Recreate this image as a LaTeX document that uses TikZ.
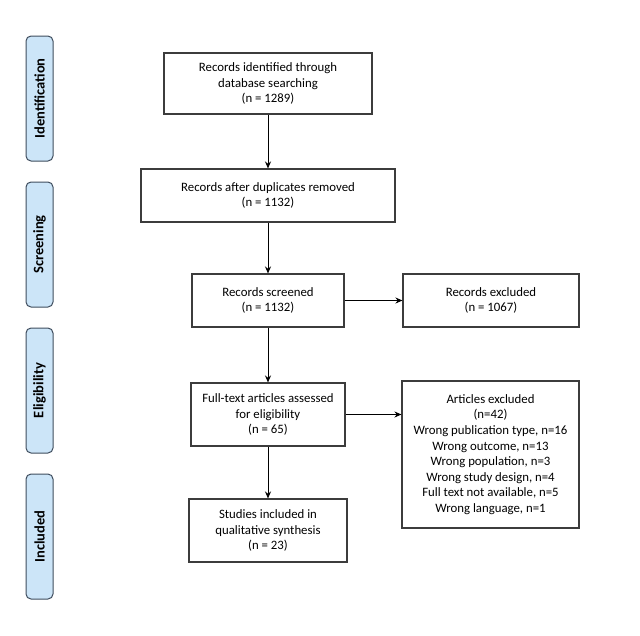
\documentclass[tikz,border=0pt]{standalone}
\usepackage{fontspec}
\setmainfont{Carlito}
\usetikzlibrary{arrows.meta}
\definecolor{barfill}{HTML}{CCE5F8}
\definecolor{bardraw}{HTML}{3F4D5E}
\definecolor{boxdraw}{HTML}{3C3C3C}
\begin{document}
\begin{tikzpicture}[x=1pt,y=-1pt,
  flowbox/.style={draw=boxdraw,line width=1.1pt,fill=white,align=center,
    inner sep=0pt,font=\fontsize{12.8}{15.6}\selectfont},
  phasebar/.style={draw=bardraw,line width=1pt,fill=barfill,rounded corners=5pt,
    minimum width=27pt,minimum height=125pt,inner sep=0pt},
  phaselabel/.style={rotate=90,font=\fontsize{14.5}{17}\selectfont\bfseries},
  flowarrow/.style={draw=black,line width=1pt,-{Stealth[length=7pt,width=6pt]}}]
\useasboundingbox (0,0) rectangle (640,635);
% phase bars
\node[phasebar] (p1) at (39.5,98.5) {};
\node[phaselabel] at (p1) {Identification};
\node[phasebar] (p2) at (39.5,244.5) {};
\node[phaselabel] at (p2) {Screening};
\node[phasebar] (p3) at (39.5,390.5) {};
\node[phaselabel] at (p3) {Eligibility};
\node[phasebar] (p4) at (39.5,536.5) {};
\node[phaselabel] at (p4) {Included};
% boxes
\node[flowbox,minimum width=208pt,minimum height=61pt] (b1) at (268,83.5)
  {Records identified through\\database searching\\(n = 1289)};
\node[flowbox,minimum width=254pt,minimum height=53pt] (b2) at (268,195.5)
  {Records after duplicates removed\\(n = 1132)};
\node[flowbox,minimum width=152pt,minimum height=53pt] (b3) at (268,300.5)
  {Records screened\\(n = 1132)};
\node[flowbox,minimum width=176pt,minimum height=53pt] (e1) at (491,300.5)
  {Records excluded\\(n = 1067)};
\node[flowbox,minimum width=154pt,minimum height=63pt] (b4) at (268,414.5)
  {Full-text articles assessed\\for eligibility\\(n = 65)};
\node[flowbox,minimum width=177pt,minimum height=147pt] (e2) at (490.5,454.5)
  {Articles excluded\\(n=42)\\Wrong publication type, n=16\\Wrong outcome, n=13\\Wrong population, n=3\\Wrong study design, n=4\\Full text not available, n=5\\Wrong language, n=1};
\node[flowbox,minimum width=158pt,minimum height=63pt] (b5) at (268,530.5)
  {Studies included in\\qualitative synthesis\\(n = 23)};
% arrows
\draw[flowarrow] (b1) -- (b2);
\draw[flowarrow] (b2) -- (b3);
\draw[flowarrow] (b3) -- (b4);
\draw[flowarrow] (b4) -- (b5);
\draw[flowarrow] (b3) -- (e1);
\draw[flowarrow] (b4.east) -- (b4.east -| e2.west);
\end{tikzpicture}
\end{document}
